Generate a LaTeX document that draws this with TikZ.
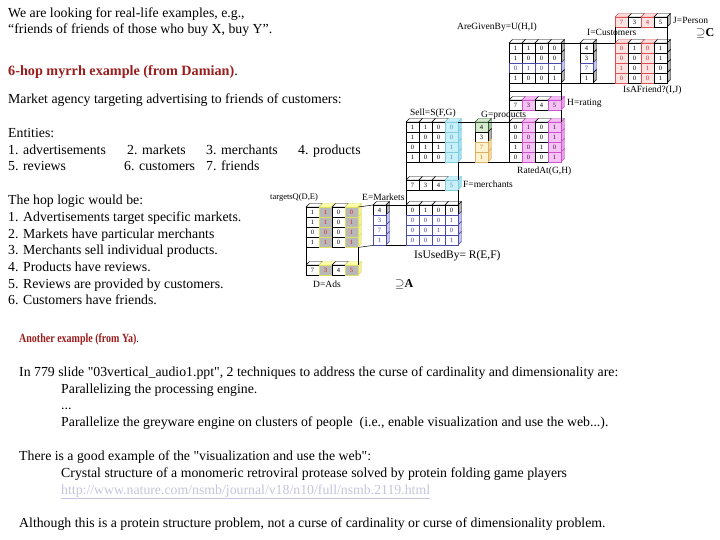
\documentclass[tikz,border=0pt]{standalone}
\usepackage{fontspec}
\setmainfont{Liberation Serif}[Ligatures=TeXOff]
\usepackage{tikz}
\usetikzlibrary{calc}
\definecolor{headred}{HTML}{9B1C1C}
\definecolor{linkgray}{HTML}{C4C4DC}
% cell tints: L line, S side, T top, F front, X text
\colorlet{pL}{black}\colorlet{pS}{black!30}\colorlet{pT}{white}\colorlet{pF}{white}\colorlet{pX}{black}
\definecolor{bL}{HTML}{4A4AA8}\definecolor{bS}{HTML}{C4C4EC}\colorlet{bT}{white}\colorlet{bF}{white}\definecolor{bX}{HTML}{3A3AB0}
\definecolor{rL}{HTML}{E05050}\definecolor{rS}{HTML}{F4B8B8}\definecolor{rT}{HTML}{FBDCDC}\definecolor{rF}{HTML}{FBE4E4}\definecolor{rX}{HTML}{D02828}
\definecolor{mL}{HTML}{D050D0}\definecolor{mS}{HTML}{E8A0E8}\definecolor{mT}{HTML}{F2C0F2}\definecolor{mF}{HTML}{F4C4F4}\definecolor{mX}{HTML}{500050}
\definecolor{cL}{HTML}{80CCE0}\definecolor{cS}{HTML}{A8E0EE}\definecolor{cT}{HTML}{CCF0F8}\definecolor{cF}{HTML}{C8F0F8}\definecolor{cX}{HTML}{4A90C0}
\definecolor{gL}{HTML}{2E5E2E}\definecolor{gS}{HTML}{A8C8A0}\definecolor{gT}{HTML}{D8E8D0}\definecolor{gF}{HTML}{D8EAD0}\colorlet{gX}{black}
\definecolor{oL}{HTML}{E0B060}\definecolor{oS}{HTML}{F0D8A0}\definecolor{oT}{HTML}{FFF0CC}\definecolor{oF}{HTML}{FFF2D0}\definecolor{oX}{HTML}{C08020}
\definecolor{yL}{HTML}{E0E060}\definecolor{yS}{HTML}{F0F0A0}\definecolor{yT}{HTML}{FFFFB0}\definecolor{yF}{HTML}{B8B8B8}\definecolor{yX}{HTML}{E02020}
% name, x, y, cols, rows, {value/tint,...},{...}
\newcommand\cubemat[6]{%
  \foreach \row [count=\r from 0] in {#6} {
    \foreach \v/\tn [count=\c from 0] in \row {
      \ifnum\r=0
        \draw[draw=\tn L,fill=\tn T] ({#2+\c*13},{#3}) -- ++(3.5,-3.5) -- ++(13,0) -- ++(-3.5,3.5) -- cycle;
      \fi
      \ifnum\c=\numexpr#4-1\relax
        \draw[draw=\tn L,fill=\tn S] ({#2+\c*13+13},{#3+\r*10}) -- ++(3.5,-3.5) -- ++(0,10) -- ++(-3.5,3.5) -- cycle;
      \fi
      \draw[draw=\tn L,fill=\tn F] ({#2+\c*13},{#3+\r*10}) rectangle ++(13,10);
      \node[cellval,text=\tn X] (#1-\r-\c) at ({#2+\c*13+6.5},{#3+\r*10+5}) {\v};
    }}
  \node[inner sep=0,minimum width=#4*13,minimum height=#5*10,anchor=north west] (#1) at (#2,#3) {};
}

\begin{document}
\begin{tikzpicture}[x=1pt,y=-1pt,
  cellval/.style={inner sep=0,font=\fontsize{6.5}{6.5}\selectfont},
  txt/.style={anchor=base west,inner sep=0,font=\fontsize{13.8}{15}\selectfont},
  lbl/.style={anchor=west,inner sep=0,font=\fontsize{9.5}{11}\selectfont},
  conn/.style={draw=black,line width=0.5pt}]
  \useasboundingbox (0,0) rectangle (720,540);

  % left column text
  \node[txt] (intro1) at (8,18) {We are looking for real-life examples, e.g.,};
  \node[txt] (intro2) at (8,34) {“friends of friends of those who buy X, buy Y”.};
  \node[txt,font=\fontsize{14.2}{16}\selectfont\bfseries,text=headred] (head1) at (8,76) {6-hop myrrh example (from Damian)\textcolor{black}{\mdseries.}};
  \node[txt] (market) at (8,104) {Market agency targeting advertising to friends of customers:};
  \node[txt] (ents) at (8,138) {Entities:};
  \node[txt] (ent1) at (8,155) {1. advertisements};
  \node[txt] (ent2) at (127,155) {2. markets};
  \node[txt] (ent3) at (206,155) {3. merchants};
  \node[txt] (ent4) at (298,155) {4. products};
  \node[txt] (ent5) at (8,171) {5. reviews};
  \node[txt] (ent6) at (124,171) {6. customers};
  \node[txt] (ent7) at (206,171) {7. friends};
  \node[txt] (hop0) at (8,205) {The hop logic would be:};
  \node[txt] (hop1) at (8,221.5) {1. Advertisements target specific markets.};
  \node[txt] (hop2) at (8,238) {2. Markets have particular merchants};
  \node[txt] (hop3) at (8,254.5) {3. Merchants sell individual products.};
  \node[txt] (hop4) at (8,271) {4. Products have reviews.};
  \node[txt] (hop5) at (8,288) {5. Reviews are provided by customers.};
  \node[txt] (hop6) at (8,304.5) {6. Customers have friends.};

  % cube matrices
  \cubemat{pers}{615}{17}{4}{1}{{7/r,3/p,4/r,5/p}}
  \cubemat{U}{509}{43}{4}{4}{{1/p,1/p,0/p,0/p},{1/p,0/p,0/p,0/p},{0/b,1/b,0/b,1/b},{1/p,0/p,0/p,1/p}}
  \cubemat{cust}{580}{43}{1}{4}{{4/p},{3/p},{7/b},{1/p}}
  \cubemat{friend}{615}{43}{4}{4}{{0/r,1/p,0/r,1/p},{0/r,0/p,0/r,1/p},{1/r,0/p,1/r,0/p},{0/r,0/p,0/r,1/p}}
  \cubemat{rate}{509}{100}{4}{1}{{7/p,3/m,4/p,5/m}}
  \cubemat{rated}{509}{122}{4}{4}{{0/p,1/m,0/p,1/m},{0/p,0/m,0/p,1/m},{1/p,0/m,1/p,0/m},{0/p,0/m,0/p,1/m}}
  \cubemat{prod}{475}{122}{1}{4}{{4/g},{3/p},{7/o},{1/o}}
  \cubemat{sell}{406}{122}{4}{4}{{1/p,1/p,0/p,0/c},{1/p,0/p,0/p,0/c},{0/p,1/p,1/p,1/c},{1/p,0/p,0/p,1/c}}
  \cubemat{merch}{406}{180}{4}{1}{{7/p,3/p,4/p,5/c}}
  \cubemat{used}{406}{205}{4}{4}{{0/p,1/p,0/p,0/p},{0/b,0/b,0/b,1/b},{0/b,0/b,1/b,0/b},{0/b,0/b,0/b,1/b}}
  \cubemat{mkt}{373}{205}{1}{4}{{4/p},{3/b},{7/b},{1/b}}
  \cubemat{tgt}{306}{207}{4}{4}{{1/p,1/y,0/p,0/y},{1/p,1/y,0/p,1/y},{0/p,0/y,0/p,1/y},{1/p,1/y,0/p,1/y}}
  \cubemat{ads}{306}{265}{4}{1}{{7/p,3/y,4/p,5/y}}

  % connectors
  \draw[conn] (U.north east) -- (cust.north west) (U.south east) -- (cust.south west);
  \draw[conn] (cust.north east) -- (friend.north west) (cust.south east) -- (friend.south west);
  \draw[conn] (pers.south west) -- (friend.north west) (pers.south east) -- (friend.north east);
  \draw[conn] (U.south west) -- (rate.north west) (U.south east) -- (rate.north east);
  \draw[conn] ($(U.south west)!.5!(rate.north west)$) -- ($(U.south east)!.5!(rate.north east)$);
  \draw[conn] (rate.south west) -- (rated.north west) (rate.south east) -- (rated.north east);
  \draw[conn] (sell.north east) -- (prod.north west) (sell.south east) -- (prod.south west);
  \draw[conn] (prod.north east) -- (rated.north west) (prod.south east) -- (rated.south west);
  \draw[conn] (sell.south west) -- (merch.north west) (sell.south east) -- (merch.north east);
  \draw[conn] (merch.south west) -- (used.north west) (merch.south east) -- (used.north east);
  \draw[conn] (tgt.north east) -- (mkt.north west) (tgt.south east) -- (mkt.south west);
  \draw[conn] (mkt.north east) -- (used.north west) (mkt.south east) -- (used.south west);
  \draw[conn] (tgt.south west) -- (ads.north west) (tgt.south east) -- (ads.north east);

  % matrix labels
  \node[lbl] (lU) at (457,27) {AreGivenBy=U(H,I)};
  \node[lbl] (lcust) at (587,32) {I=Customers};
  \node[lbl] (lpers) at (673,20) {J=Person};
  \node[lbl,font=\fontsize{12}{14}\selectfont] (supC) at (696,33) {$\supseteq$\textbf{C}};
  \node[lbl] (lfriend) at (623,90) {IsAFriend?(I,J)};
  \node[lbl] (lrate) at (567,103) {H=rating};
  \node[lbl] (lsell) at (410,113) {Sell=S(F,G)};
  \node[lbl] (lprod) at (481,115) {G=products};
  \node[lbl] (lrated) at (517,171) {RatedAt(G,H)};
  \node[lbl] (lmerch) at (463,184) {F=merchants};
  \node[lbl,font=\fontsize{8.5}{10}\selectfont] (ltgt) at (270,197) {targetsQ(D,E)};
  \node[lbl] (lmkt) at (362,197) {E=Markets};
  \node[lbl,font=\fontsize{11.5}{13}\selectfont] (lused) at (414,256) {IsUsedBy= R(E,F)};
  \node[lbl] (lads) at (313,284) {D=Ads};
  \node[lbl,font=\fontsize{12}{14}\selectfont] (supA) at (395,284) {$\supseteq$\textbf{A}};

  % second example
  \node[txt,font=\fontsize{12.5}{14}\selectfont\bfseries,text=headred] (head2) at (19,342) {\scalebox{0.8}[1]{Another example (from Ya)\textcolor{black}{\mdseries.}}};
  \node[txt] (ya1) at (19,376) {In 779 slide "03vertical\_audio1.ppt", 2 techniques to address the curse of cardinality and dimensionality are:};
  \node[txt] (ya2) at (61,393) {Parallelizing the processing engine.};
  \node[txt] (ya3) at (61,409) {...};
  \node[txt] (ya4) at (61,426) {Parallelize the greyware engine on clusters of people\ \ (i.e., enable visualization and use the web...).};
  \node[txt] (ya5) at (19,460) {There is a good example of the "visualization and use the web":};
  \node[txt] (ya6) at (61,477) {Crystal structure of a monomeric retroviral protease solved by protein folding game players};
  \node[txt,text=linkgray] (ya7) at (61,494) {\underline{http://www.nature.com/nsmb/journal/v18/n10/full/nsmb.2119.html}};
  \node[txt] (ya8) at (19,527) {Although this is a protein structure problem, not a curse of cardinality or curse of dimensionality problem.};
\end{tikzpicture}
\end{document}
